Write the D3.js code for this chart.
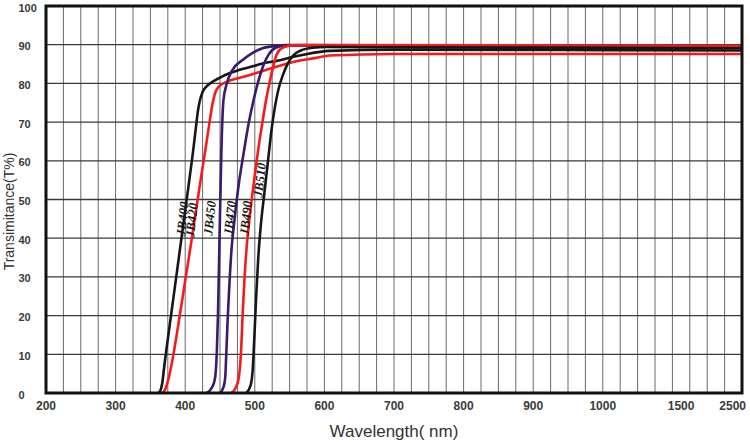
<!DOCTYPE html>
<html>
<head>
<script src="https://d3js.org/d3.v7.min.js"></script>
<style>
body {
  margin: 0;
  background: #fff;
  font-family: Arial, Helvetica, sans-serif;
}
</style>
</head>
<body>
<div id="chart"></div>
<script>
// filter names and curves: [wavelength nm, transmittance %]
const filters = ["JB400", "JB420", "JB450", "JB470", "JB490", "JB510"];

const jb400 = [[361,0],[364,0.5],[367,2.5],[370,7],[380,20.5],[392,36.5],[404,52.5],[411,62],
  [415,68],[418,72.5],[421,75.5],[425,77.8],[431,79.3],[438,80.3],[447,81.2],[464,82.7],[478,83.5],
  [497,84.4],[510,85.1],[531,85.8],[554,86.8],[570,87.4],[607,88.4],[700,88.7],[1000,88.6],[2500,88.5]];
const jb420 = [[367,0],[371,0.8],[375,3],[380,7],[390,17.5],[400,29],[410,40.5],[420,52.5],
  [430,64],[435,70],[439,74.5],[443,77.5],[449,79.3],[460,80.4],[488,81.9],[517,83.5],[550,85.3],
  [588,86.6],[607,87.2],[700,87.6],[1000,87.6],[2500,87.6]];
const jb450 = [[431,0],[439,1.6],[443,4],[445.5,11],[447,19.6],[449,37],[452,62.8],[455,75.7],
  [460,80.1],[468,83.5],[482,86],[497,87.9],[511,89.1],[531,89.7],[545,89.9],[700,89.8],
  [1000,89.6],[2500,89.2]];
const jb470 = [[450,0],[455,1.5],[457.5,4],[459,10],[461,19],[463.5,28],[466.5,37],[471,45],
  [477,54],[484,62],[491,69.5],[498,75.5],[505,80.5],[512,84.5],[520,87.5],[530,89.2],[545,89.8],
  [700,89.8],[1000,89.7],[2500,89.3]];
const jb490 = [[466,0],[473,1.5],[477,4],[480,10],[482.5,20],[485,29],[488,37],[493,46],
  [499,55],[505,63],[511,70],[516,75.5],[521,80],[526,84],[531,87.3],[538,89],[548,89.7],
  [560,89.9],[1000,89.8],[2500,89.7]];
const jb510 = [[488,0],[494,2],[497,6],[499.5,15],[502,25],[505,35],[509,44],[514,52],
  [519,60],[524,68],[529,74],[534,78.5],[540,82],[547,85],[555,87.2],[566,88.5],[583,89.2],
  [603,89.4],[700,89.3],[1000,89.2],[2500,89.1]];
const curves = [jb400, jb420, jb450, jb470, jb490, jb510];

// where each filter name sits: [wavelength nm, transmittance %]
const labelAt = [[396,45],[409,44.7],[435,45.2],[464,45.2],[487,45.2],[507,55]];

const xTicks = [200, 300, 400, 500, 600, 700, 800, 900, 1000, 1500, 2500];
const yTicks = [0, 10, 20, 30, 40, 50, 60, 70, 80, 90, 100];
const gridSteps = d3.range(0, 41); // vertical grid, 25 nm steps up to 1000

const width = 750;
const height = 443;
const marginTop = 6;
const marginRight = 8;
const marginBottom = 50;
const marginLeft = 46;

const cell = d3.scaleLinear()
  .domain([0, 40])
  .range([marginLeft, width - marginRight]);

// uneven wavelength axis: 200-1000 linear, then squeezed to 2500
const x = d3.scaleLinear()
  .domain([200, 1000, 1500, 2500])
  .range([cell(0), cell(32), cell(36.5), cell(40)]);

const y = d3.scaleLinear()
  .domain([0, 100])
  .range([height - marginBottom, marginTop]);

const lineColor = {
  JB400: "#161616", JB420: "#f41a1e", JB450: "#3a1a6c",
  JB470: "#3a1a6c", JB490: "#f41a1e", JB510: "#161616"
};

const svg = d3.create("svg")
  .attr("width", width)
  .attr("height", height)
  .attr("viewBox", [0, 0, width, height]);

// grid
svg.append("g")
  .selectAll("line")
  .data(gridSteps)
  .join("line")
    .attr("x1", d => cell(d))
    .attr("x2", d => cell(d))
    .attr("y1", y(100))
    .attr("y2", y(0))
    .attr("stroke", "#6a6a6a")
    .attr("stroke-width", 1);

svg.append("g")
  .selectAll("line")
  .data(yTicks)
  .join("line")
    .attr("x1", cell(0))
    .attr("x2", cell(40))
    .attr("y1", d => y(d))
    .attr("y2", d => y(d))
    .attr("stroke", "#3a3a3a")
    .attr("stroke-width", 1.3);

// curves
const line = d3.line()
  .x(d => x(d[0]))
  .y(d => y(d[1]))
  .curve(d3.curveMonotoneX);

svg.append("g")
  .attr("fill", "none")
  .attr("stroke-width", 2.6)
  .attr("stroke-linejoin", "round")
  .selectAll("path")
  .data(curves)
  .join("path")
    .attr("stroke", (d, i) => lineColor[filters[i]])
    .attr("d", line);

// frame
svg.append("rect")
  .attr("x", cell(0))
  .attr("y", y(100))
  .attr("width", cell(40) - cell(0))
  .attr("height", y(0) - y(100))
  .attr("fill", "none")
  .attr("stroke", "#111")
  .attr("stroke-width", 3);

// filter names
svg.append("g")
  .selectAll("text")
  .data(filters)
  .join("text")
    .attr("transform", (d, i) => `translate(${x(labelAt[i][0])},${y(labelAt[i][1])}) rotate(-84)`)
    .attr("text-anchor", "middle")
    .attr("dominant-baseline", "central")
    .attr("font-family", "'Liberation Serif', 'Times New Roman', serif")
    .attr("font-weight", "bold")
    .attr("font-style", "italic")
    .attr("font-size", 13)
    .attr("fill", "#1a1a1a")
    .text(d => d);

// y axis labels
svg.append("g")
  .selectAll("text")
  .data(yTicks)
  .join("text")
    .attr("x", 18.5)
    .attr("y", d => y(d) + 1.5)
    .attr("dominant-baseline", "central")
    .attr("font-size", 11)
    .attr("font-weight", "bold")
    .attr("fill", "#3a3a3a")
    .text(d => d);

// x axis labels
svg.append("g")
  .selectAll("text")
  .data(xTicks)
  .join("text")
    .attr("x", d => d === 2500 ? x(d) + 4 : x(d))
    .attr("y", 410)
    .attr("text-anchor", d => d === 2500 ? "end" : "middle")
    .attr("font-size", 12)
    .attr("font-weight", "bold")
    .attr("fill", "#3a3a3a")
    .text(d => d);

// axis titles
svg.append("text")
  .attr("transform", `translate(9,${(y(0) + y(100)) / 2 + 12}) rotate(-90)`)
  .attr("text-anchor", "middle")
  .attr("dominant-baseline", "central")
  .attr("font-size", 14)
  .attr("fill", "#333")
  .text("Transimitance(T%)");

svg.append("text")
  .attr("x", 394)
  .attr("y", 437)
  .attr("text-anchor", "middle")
  .attr("font-size", 17)
  .attr("fill", "#333")
  .text("Wavelength( nm)");

document.getElementById("chart").appendChild(svg.node());
</script>
</body>
</html>
